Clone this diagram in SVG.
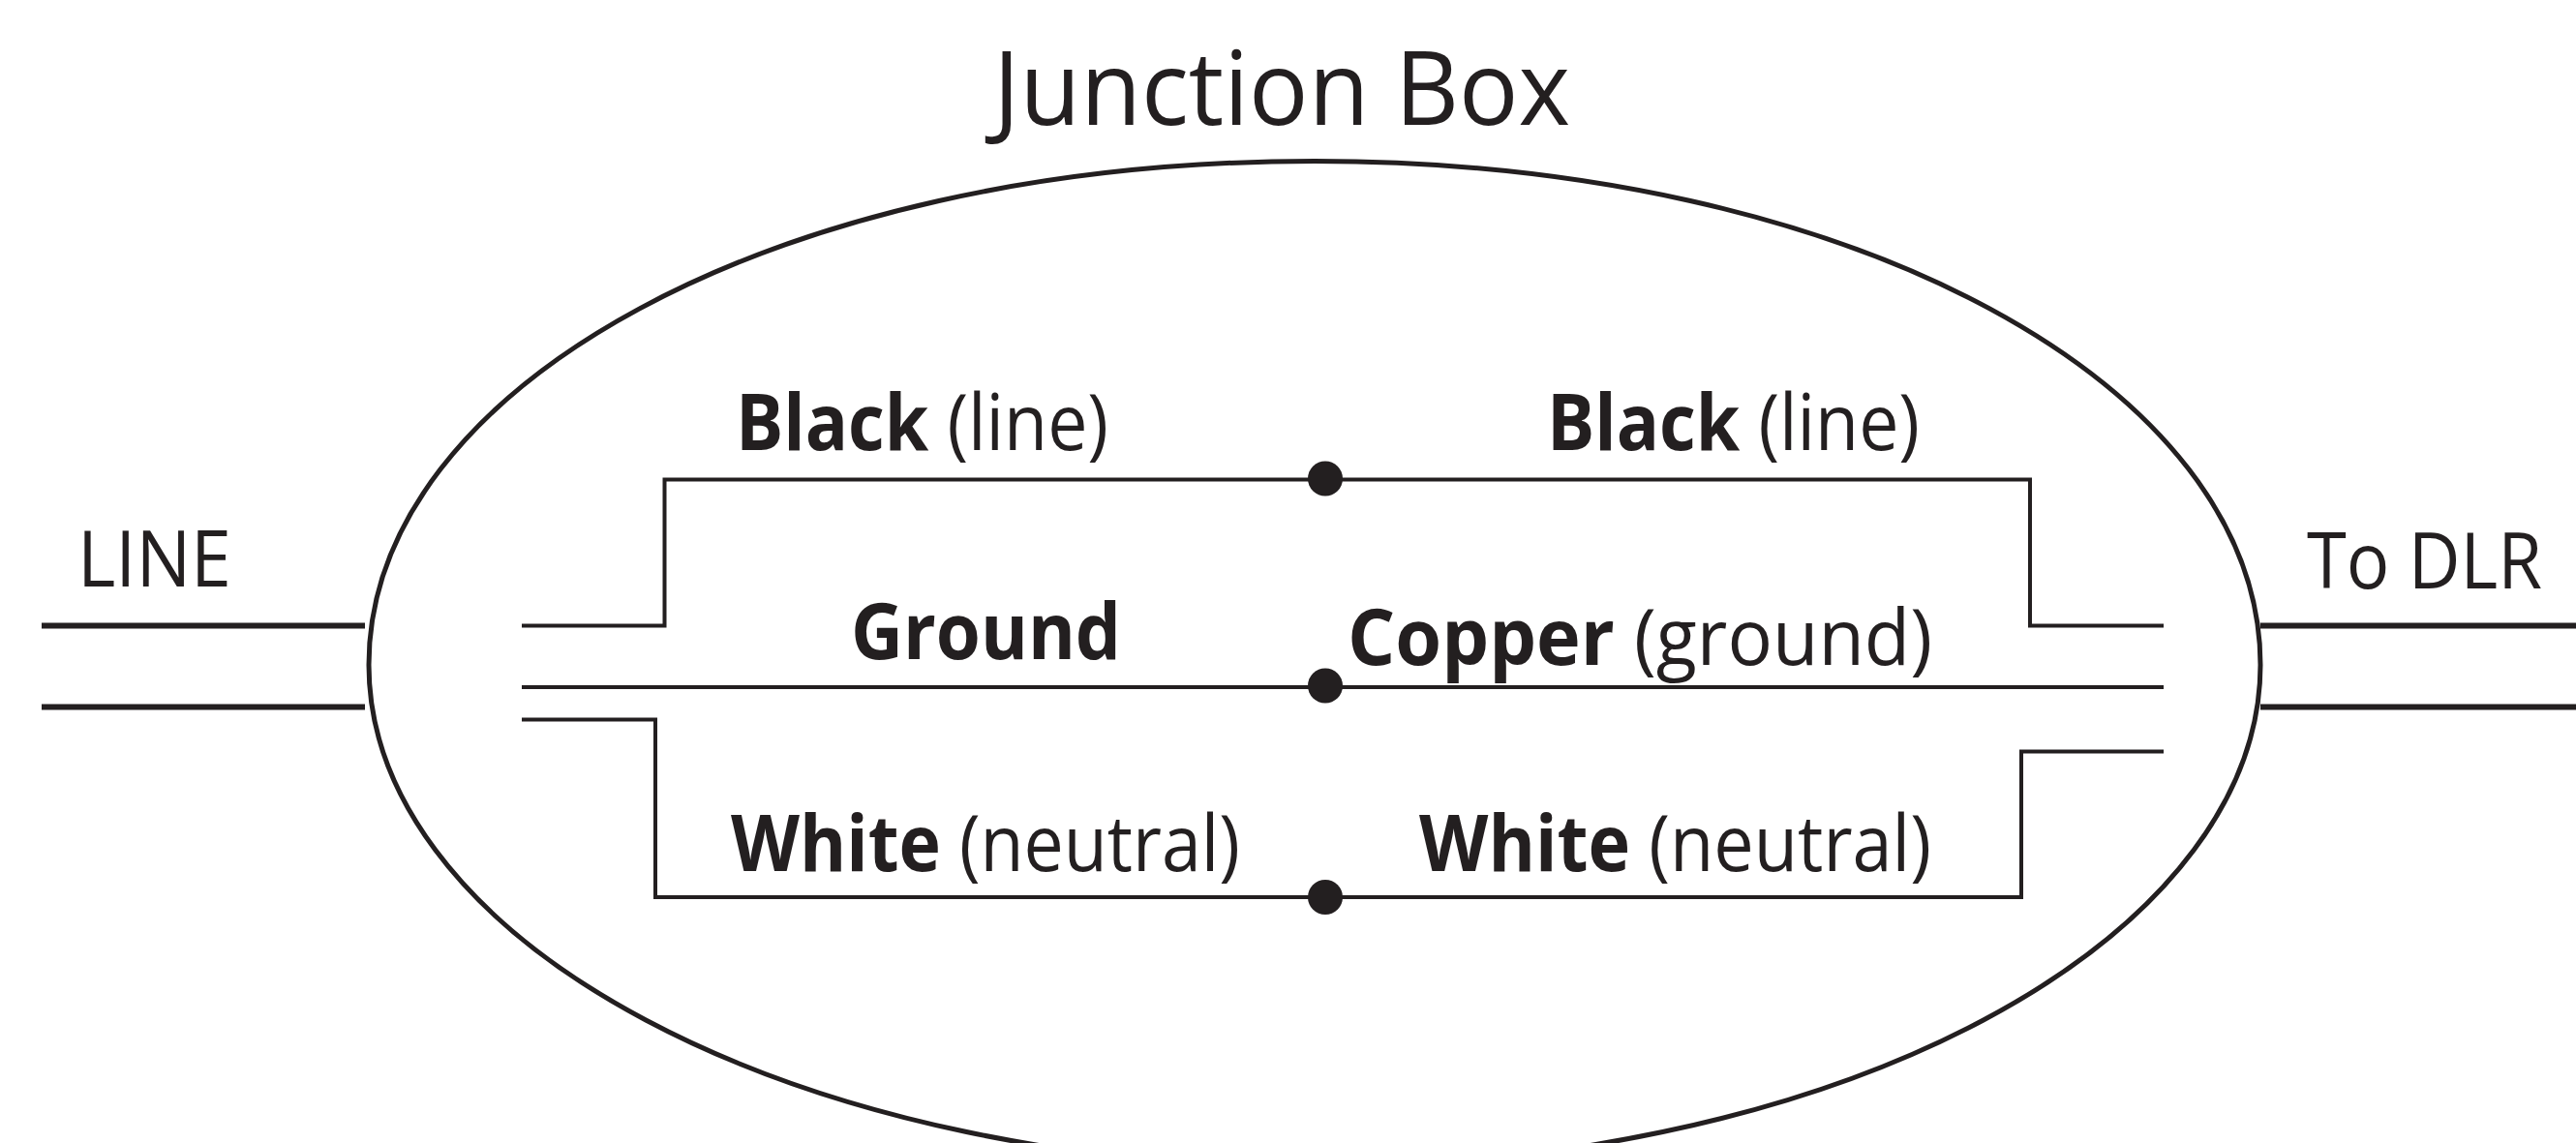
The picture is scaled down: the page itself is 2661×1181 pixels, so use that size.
<svg xmlns="http://www.w3.org/2000/svg" width="2661" height="1181" viewBox="0 0 2661 1181">
<style>
text{font-family:"Open Sans","Noto Sans","Liberation Sans",sans-serif;fill:#231f20}
.l{font-size:80px}
.b{font-weight:700}
.w{fill:none;stroke:#231f20;stroke-width:4}
.t{fill:none;stroke:#231f20;stroke-width:6}
.e{fill:none;stroke:#231f20;stroke-width:5}
.d{fill:#231f20}
</style>
<rect width="2661" height="1181" fill="#fff"/>
<g id="junction-box">
<path class="e" d="M381 687C381 400 800 166.5 1358 166.5C1916 166.5 2335 400 2335 687A977 519 0 0 1 381 687Z"/>
<text x="1026" y="129" font-size="106" textLength="596" lengthAdjust="spacingAndGlyphs">Junction Box</text>
</g>
<g id="connectors">
<path class="t" d="M43 646.5H377M43 730.5H377M2335 646.5H2661M2335 730.5H2661"/>
<path class="w" d="M539 646.5H686.5V495.5H2097V646.5H2235"/>
<path class="w" d="M539 710H2235"/>
<path class="w" d="M539 743.5H677V927H2088V776.5H2235"/>
</g>
<g id="node-black"><circle cx="1369" cy="494.5" r="18" class="d"/></g>
<g id="node-ground"><circle cx="1369" cy="708.5" r="18" class="d"/></g>
<g id="node-white"><circle cx="1369" cy="927" r="18" class="d"/></g>
<g id="labels">
<text x="80" y="606" class="l" textLength="159" lengthAdjust="spacingAndGlyphs">LINE</text>
<text x="2383" y="608" class="l" textLength="243" lengthAdjust="spacingAndGlyphs">To DLR</text>
<text x="760" y="465" class="l" textLength="385" lengthAdjust="spacingAndGlyphs"><tspan class="b">Black</tspan> (line)</text>
<text x="1598" y="465" class="l" textLength="385" lengthAdjust="spacingAndGlyphs"><tspan class="b">Black</tspan> (line)</text>
<text x="879" y="681" class="l b" textLength="279" lengthAdjust="spacingAndGlyphs">Ground</text>
<text x="1392" y="687" class="l" textLength="604" lengthAdjust="spacingAndGlyphs"><tspan class="b">Copper</tspan> (ground)</text>
<text x="755" y="900" class="l" textLength="526" lengthAdjust="spacingAndGlyphs"><tspan class="b">White</tspan> (neutral)</text>
<text x="1466" y="900" class="l" textLength="529" lengthAdjust="spacingAndGlyphs"><tspan class="b">White</tspan> (neutral)</text>
</g>
</svg>
